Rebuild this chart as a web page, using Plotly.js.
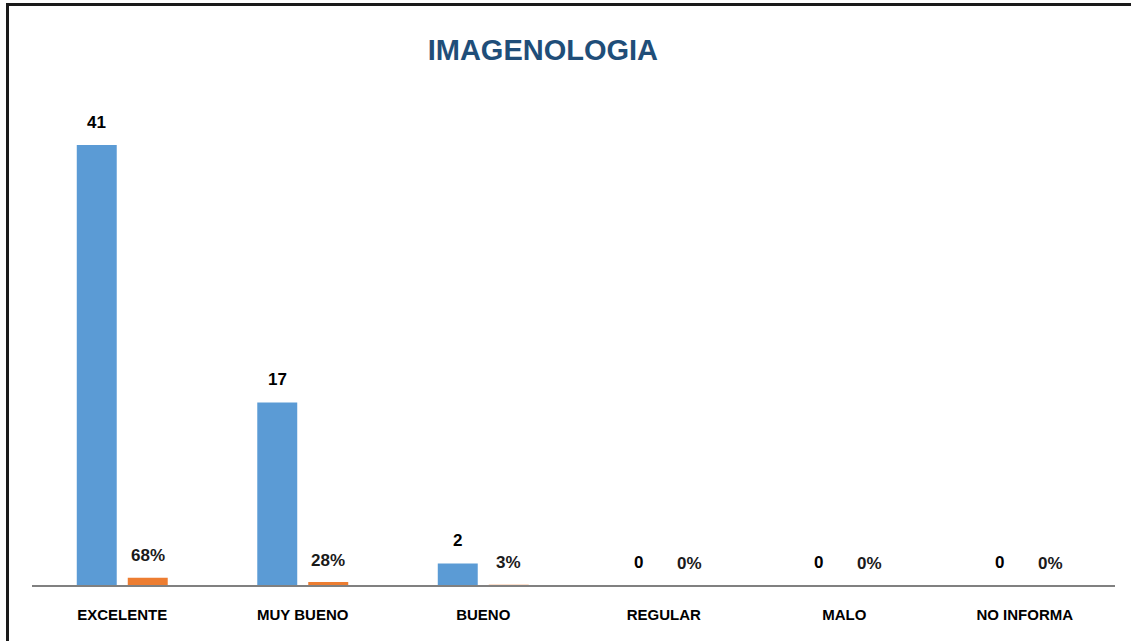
<!DOCTYPE html>
<html>
<head>
<meta charset="utf-8">
<script src="https://cdn.plot.ly/plotly-3.0.1.min.js"></script>
<style>
  html, body { margin: 0; padding: 0; background: #ffffff; }
  #wrap { position: relative; width: 1131px; height: 641px; overflow: hidden; }
  #chart { width: 1131px; height: 641px; }
  #frame { position: absolute; left: 6px; top: 3px; width: 1140px; height: 660px;
           border-left: 3px solid #1a1a1a; border-top: 3px solid #1a1a1a; pointer-events: none; }
</style>
</head>
<body>
<div id="wrap">
  <div id="chart"></div>
  <div id="frame"></div>
</div>
<script>
const categories = ["EXCELENTE", "MUY BUENO", "BUENO", "REGULAR", "MALO", "NO INFORMA"];
const counts = [41, 17, 2, 0, 0, 0];
const percents = [68, 28, 3, 0, 0, 0];
const chartTitle = "IMAGENOLOGIA";

const FONT = "'Liberation Sans', Arial, sans-serif";
const pctFrac = percents.map(p => p / 100);

const traces = [
  { type: "bar", name: "Cantidad", x: categories, y: counts,
    marker: { color: "#5B9BD5" }, hoverinfo: "x+y" },
  { type: "bar", name: "Porcentaje", x: categories, y: pctFrac,
    marker: { color: "#ED7D31" }, hoverinfo: "x+y" }
];

const slotShift = 25.5;
const annotations = [];
categories.forEach((c, i) => {
  annotations.push({ x: c, y: counts[i], xref: "x", yref: "y", text: String(counts[i]),
    showarrow: false, xshift: -slotShift, yshift: 23, yanchor: "middle",
    font: { family: FONT, size: 17, color: "#000000", weight: "bold" } });
  annotations.push({ x: c, y: pctFrac[i], xref: "x", yref: "y", text: percents[i] + "%",
    showarrow: false, xshift: slotShift, yshift: 22, yanchor: "middle",
    font: { family: FONT, size: 17, color: "#1a1a1a", weight: "bold" } });
});

const layout = {
  width: 1131, height: 641,
  paper_bgcolor: "#ffffff", plot_bgcolor: "#ffffff",
  margin: { l: 32, r: 16, t: 100, b: 56 },
  title: { text: "<b>" + chartTitle + "</b>", x: 0.48, xanchor: "center", y: 0.922, yanchor: "middle",
    font: { family: FONT, size: 29, color: "#1F4E79" } },
  showlegend: false,
  barmode: "group", bargap: 0.435, bargroupgap: 0.216,
  xaxis: { type: "category", showline: true, linecolor: "#808080", linewidth: 2,
    ticks: "outside", ticklen: 15, tickcolor: "rgba(0,0,0,0)",
    tickfont: { family: FONT, size: 15, color: "#000000", weight: "bold" },
    showgrid: false, zeroline: false, fixedrange: true },
  yaxis: { range: [0, 45.2], visible: false, showgrid: false, zeroline: false, fixedrange: true },
  annotations: annotations
};

Plotly.newPlot("chart", traces, layout, { displayModeBar: false, staticPlot: true });
</script>
</body>
</html>
